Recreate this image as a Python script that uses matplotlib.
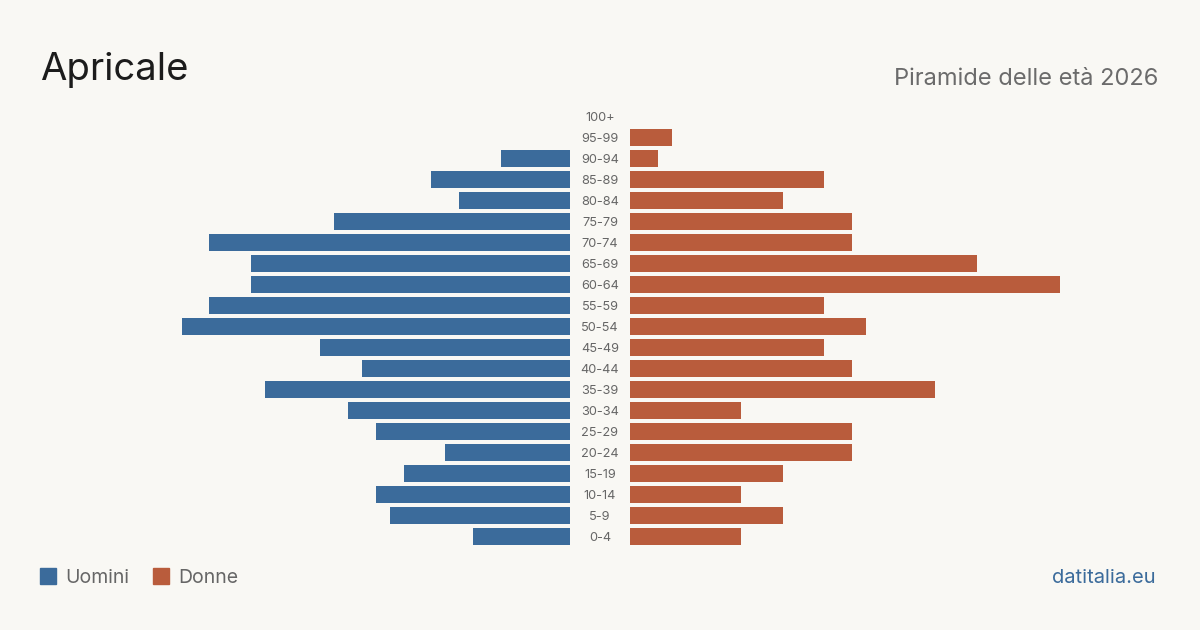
import matplotlib
matplotlib.use("Agg")
import matplotlib.pyplot as plt
import matplotlib.transforms as mtransforms
from matplotlib.patches import Rectangle

plt.rcParams['font.family'] = ['Inter', 'DejaVu Sans']

# dati (dal basso verso l'alto)
eta = ["0-4", "5-9", "10-14", "15-19", "20-24", "25-29", "30-34", "35-39",
       "40-44", "45-49", "50-54", "55-59", "60-64", "65-69", "70-74",
       "75-79", "80-84", "85-89", "90-94", "95-99", "100+"]
uomini = [7, 13, 14, 12, 9, 14, 16, 22, 15, 18, 28, 26, 23, 23, 26, 17, 8, 10, 5, 0, 0]
donne = [8, 11, 8, 11, 16, 16, 8, 22, 16, 14, 17, 14, 31, 25, 16, 16, 11, 14, 2, 3, 0]

BG = "#f9f8f4"
BLU = "#3b6b9b"
ROSSO = "#b95c3c"
W, H = 1200, 630

fig = plt.figure(figsize=(12, 6.3), dpi=100, facecolor=BG)

def px(x, y, w, h):
    # rettangolo in pixel (dall'alto) -> coordinate figura
    return [x / W, 1 - (y + h) / H, w / W, h / H]

xmax = max(max(uomini), max(donne))
top, bottom = 106, 547
ax_l = fig.add_axes(px(140, top, 430, bottom - top))
ax_r = fig.add_axes(px(630, top, 430, bottom - top))

pos = list(range(len(eta)))
ax_l.barh(pos, uomini, height=0.786, color=BLU)
ax_r.barh(pos, donne, height=0.786, color=ROSSO)

ax_l.set_xlim(xmax, 0)
ax_r.set_xlim(0, xmax)
for ax in (ax_l, ax_r):
    ax.set_ylim(-0.5, len(eta) - 0.5)
    ax.set_axis_off()
    ax.patch.set_alpha(0)

trans = mtransforms.blended_transform_factory(fig.transFigure, ax_r.transData)
for i, lab in enumerate(eta):
    fig.text(0.5, i, lab, transform=trans, ha="center", va="center_baseline",
             fontsize=9.2, color="#666666")

fig.text(40 / W, 1 - 80 / H, "Apricale", fontsize=27.5, color="#1c1c1c",
         ha="left", va="baseline")
fig.text(1158 / W, 1 - 85 / H, "Piramide delle età 2026", fontsize=17,
         color="#6b6b6b", ha="right", va="baseline")

# legenda
for x0, col, txt, tx in [(40, BLU, "Uomini", 65), (153, ROSSO, "Donne", 178)]:
    fig.patches.append(Rectangle((x0 / W, 1 - 584 / H), 16 / W, 16 / H,
                                 transform=fig.transFigure, color=col))
    fig.text(tx / W, 1 - 583 / H, txt, fontsize=14, color="#666666",
             ha="left", va="baseline")

fig.text(1156 / W, 1 - 583 / H, "datitalia.eu", fontsize=14.5, color=BLU,
         ha="right", va="baseline")

fig.savefig("out.png", dpi=100, facecolor=BG)
